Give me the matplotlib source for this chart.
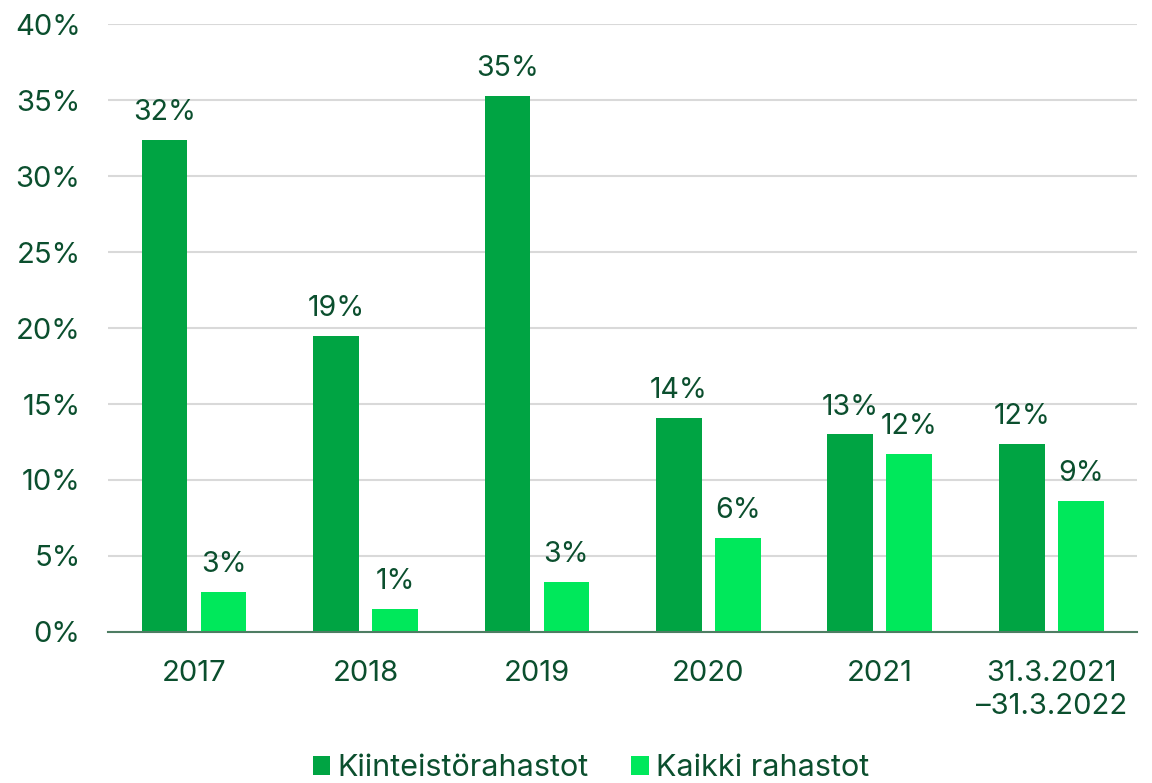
import matplotlib
matplotlib.use("Agg")
import matplotlib.pyplot as plt
import numpy as np

# data (percent)
categories = ["2017", "2018", "2019", "2020", "2021", "31.3.2021\n\u201331.3.2022"]
kiinteisto = [32.4, 19.5, 35.3, 14.1, 13.0, 12.4]
kaikki = [2.6, 1.5, 3.3, 6.2, 11.7, 8.6]
kiinteisto_labels = ["32%", "19%", "35%", "14%", "13%", "12%"]
kaikki_labels = ["3%", "1%", "3%", "6%", "12%", "9%"]
series_names = ["Kiinteistörahastot", "Kaikki rahastot"]

dark = "#00A443"
light = "#00E85B"
text_col = "#0B4F2E"

plt.rcParams['font.family'] = ['Inter', 'DejaVu Sans']
plt.rcParams['font.size'] = 21

fig = plt.figure(figsize=(11.52, 7.83), dpi=100)
ax = fig.add_axes([0.094, 0.193, 0.893, 0.776])

x = np.arange(len(categories))
w = 0.267
off = 0.172
b1 = ax.bar(x - off, kiinteisto, w, color=dark, label=series_names[0], zorder=3)
b2 = ax.bar(x + off, kaikki, w, color=light, label=series_names[1], zorder=3)

ax.bar_label(b1, labels=kiinteisto_labels, padding=10, color=text_col, fontsize=20.5)
ax.bar_label(b2, labels=kaikki_labels, padding=10, color=text_col, fontsize=20.5)

ax.set_xlim(-0.5, len(categories) - 0.5)
ax.set_ylim(0, 40)
ax.set_yticks(np.arange(0, 41, 5))
ax.set_yticklabels([f"{v}%" for v in range(0, 41, 5)])
ax.set_xticks(x)
ax.set_xticklabels(categories, linespacing=1.3)
ax.tick_params(axis='both', length=0, colors=text_col, labelsize=21)
ax.tick_params(axis='x', pad=20)
ax.tick_params(axis='y', pad=20)

ax.yaxis.grid(True, color="#D9D9D9", linewidth=1.5, zorder=0)
for s in ["top", "right", "left"]:
    ax.spines[s].set_visible(False)
ax.spines["bottom"].set_color("#4E7D63")
ax.spines["bottom"].set_linewidth(1.5)
ax.spines["bottom"].set_zorder(4)

leg = ax.legend(loc="lower center", bbox_to_anchor=(0.469, -0.292), ncol=2, frameon=False,
                handlelength=0.58, handleheight=0.58, handletextpad=0.22, columnspacing=1.4,
                fontsize=22)
for t in leg.get_texts():
    t.set_color(text_col)

fig.savefig("out.png", dpi=100)
